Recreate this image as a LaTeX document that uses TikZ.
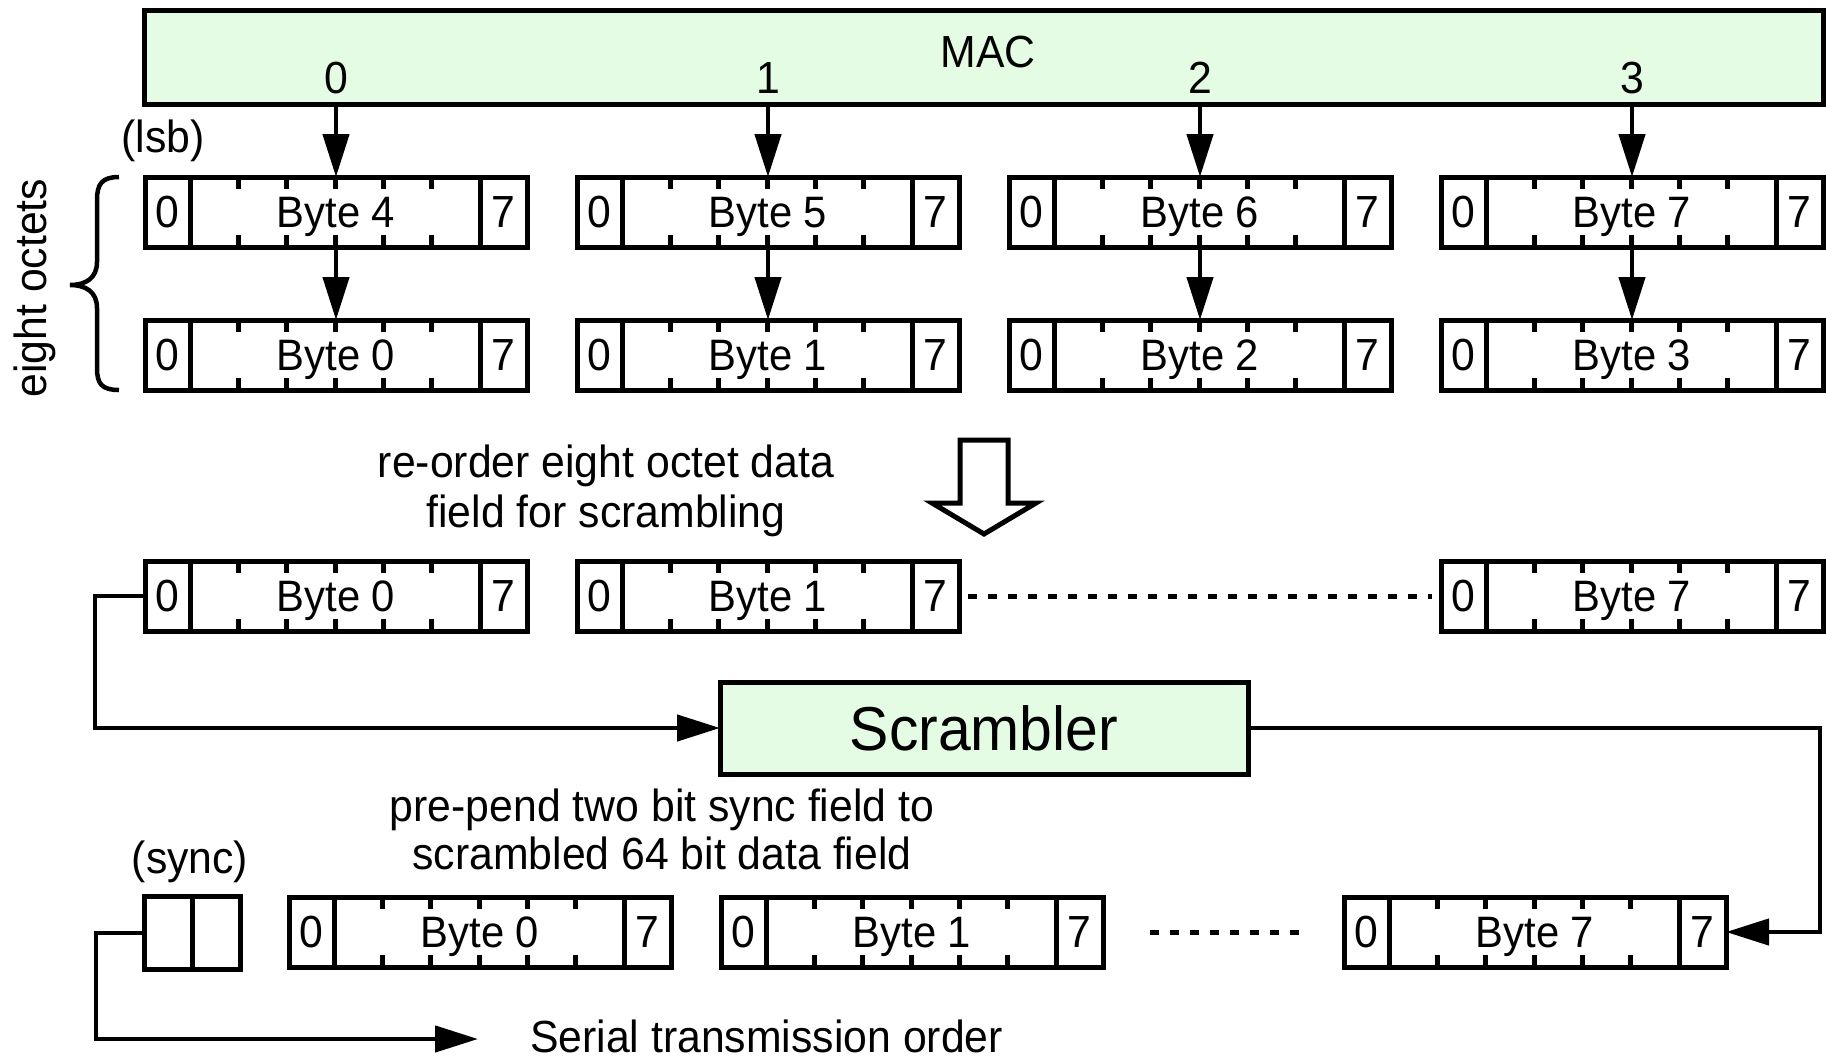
\documentclass[tikz,border=0pt]{standalone}
\usepackage{fontspec}
\setmainfont{Liberation Sans}[FakeStretch=0.95]
\usetikzlibrary{arrows.meta,calc}
\definecolor{macgreen}{RGB}{227,252,227}

\tikzset{
  ln/.style={line width=5pt},
  txt/.style={font=\fontsize{45}{48}\selectfont, inner sep=0pt, text depth=0pt},
  octet/.style={draw, line width=5pt, minimum width=382pt, minimum height=70pt,
                inner sep=0pt, outer sep=0pt, text depth=0pt,
                font=\fontsize{44}{48}\selectfont},
  greenbox/.style={draw, fill=macgreen, line width=5pt, inner sep=0pt, outer sep=0pt},
  flow/.style={line width=4.5pt, -{Triangle[length=43pt,width=26pt]}},
  dots/.style={line width=5pt, dash pattern=on 9pt off 11pt},
}

% One octet: name, left x, top y, caption
\newcommand{\octetbox}[4]{%
  \node[octet] (#1) at (#2+191,#3+35) {#4};
  \draw[ln] ($(#1.north west)+(45,0)$) -- ($(#1.south west)+(45,0)$);
  \draw[ln] ($(#1.north east)+(-47,0)$) -- ($(#1.south east)+(-47,0)$);
  \node[txt] (#1-lo) at ($(#1.west)+(22.5,0)$) {0};
  \node[txt] (#1-hi) at ($(#1.east)+(-23.5,0)$) {7};
  \foreach \tk in {1,...,5}{
    \draw[ln] ($(#1.north west)+(45+48.333*\tk,0)$) -- ++(0,12);
    \draw[ln] ($(#1.south west)+(45+48.333*\tk,0)$) -- ++(0,-12);
  }
}

\begin{document}
\begin{tikzpicture}[x=1pt, y={(0pt,-1pt)}]
\useasboundingbox (0,0) rectangle (1826,1058);

% MAC block with its four lanes
\node[greenbox, minimum width=1679pt, minimum height=94pt] (mac) at (983.5,57) {};
\node[txt, anchor=base] (maclabel) at (988,67) {MAC};

% lane octets (upper and lower)
\octetbox{a1}{145}{177}{Byte 4}
\octetbox{a2}{577}{177}{Byte 5}
\octetbox{a3}{1009}{177}{Byte 6}
\octetbox{a4}{1441}{177}{Byte 7}
\octetbox{b1}{145}{320}{Byte 0}
\octetbox{b2}{577}{320}{Byte 1}
\octetbox{b3}{1009}{320}{Byte 2}
\octetbox{b4}{1441}{320}{Byte 3}

\foreach \n/\lane in {1/0,2/1,3/2,4/3}{
  \node[txt, anchor=base] (lane\n) at (a\n.center |- 0,93) {\lane};
  \draw[flow] (mac.south -| a\n.north) -- (a\n.north);
  \draw[flow] (a\n.south) -- (b\n.north);
}

\node[txt, anchor=base] (lsb) at (163,152) {(lsb)};

% brace grouping the eight octets
\draw[line width=4.5pt] (119,177) .. controls (102,177) and (97,184) .. (97,200)
  -- (97,262) .. controls (97,278) and (86,285) .. (70,285)
  .. controls (86,285) and (97,292) .. (97,308)
  -- (97,368) .. controls (97,384) and (102,390) .. (119,390);
\node[txt, rotate=90] (octets) at (30,288) {eight octets};

% re-ordering step
\node[txt, anchor=base, align=center, font=\fontsize{45}{50}\selectfont] (reorder)
  at (606,527) {re-order eight octet data\\field for scrambling};
\draw[line width=5pt, line join=miter, fill=white]
  (960,440) -- (1008,440) -- (1008,503) -- (1036,503) -- (984,534)
  -- (932,503) -- (960,503) -- cycle;

% re-ordered data field
\octetbox{c1}{145}{561}{Byte 0}
\octetbox{c2}{577}{561}{Byte 1}
\octetbox{c4}{1441}{561}{Byte 7}
\draw[dots, shorten <=9pt, shorten >=9pt] (c2.east) -- (c4.west);

% scrambler
\node[greenbox, minimum width=528pt, minimum height=92pt, text depth=0pt,
      font=\fontsize{62}{62}\selectfont] (scr) at (984,728) {Scrambler};
\draw[flow] (c1.west) -- ++(-50,0) |- (scr.west);

% transmitted block
\node[txt, anchor=base, align=center, font=\fontsize{45}{48}\selectfont] (prepend)
  at (662,869) {pre-pend two bit sync field to\\scrambled 64 bit data field};
\node[txt, anchor=base] (synclabel) at (190,873) {(sync)};
\node[draw, line width=5pt, minimum width=96pt, minimum height=73pt,
      inner sep=0pt, outer sep=0pt] (sync) at (192,933) {};
\draw[ln] (sync.north) -- (sync.south);

\octetbox{d1}{289}{897}{Byte 0}
\octetbox{d2}{721}{897}{Byte 1}
\octetbox{d3}{1344}{897}{Byte 7}
\draw[dots, shorten <=47pt, shorten >=45pt] (d2.east) -- (d3.west);

\draw[flow] (scr.east) -- ++(572,0) |- (d3.east);

% serial output
\coordinate (serialend) at (478,1039);
\draw[flow] (sync.west) -- ++(-48,0) |- (serialend);
\node[txt, anchor=base west] (serial) at (530,1052) {Serial transmission order};
\end{tikzpicture}
\end{document}
